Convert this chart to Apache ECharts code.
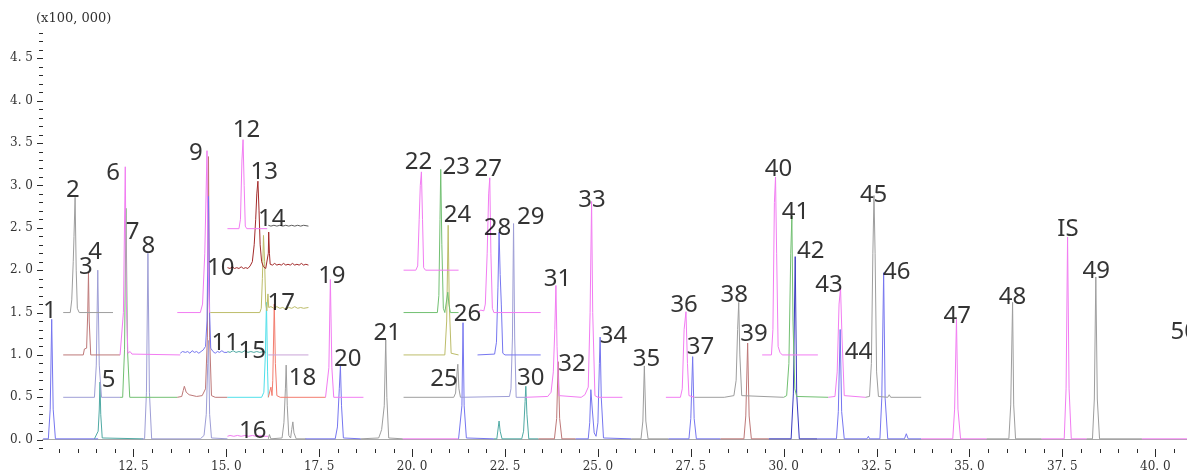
<!DOCTYPE html>
<html>
<head>
<meta charset="utf-8">
<script src="https://cdn.jsdelivr.net/npm/echarts@6/dist/echarts.min.js"></script>
<style>
  html, body { margin: 0; padding: 0; background: #fff; }
  #chart { width: 1187px; height: 475px; }
</style>
</head>
<body>
<div id="chart"></div>
<script>
// Retention time (min) / intensity (x100,000) for each channel trace.
// Traces are stacked on offsets of 0, 0.5, 1.0, 1.5, 2.0 and 2.5.

// ---- baseline 0 ----
const base0Blue1 = [[10.07,0.01],[10.21,0.01],[10.26,0.36],[10.30,1.42],[10.34,0.36],[10.40,0.01],[11.55,0.01]];
const base0Teal1 = [[11.45,0.01],[11.50,0.02],[11.55,0.10],[11.58,0.35],[11.60,0.68],[11.62,0.30],[11.66,0.02],[12.76,0.01]];
const base0Lav = [[12.70,0.01],[12.80,0.01],[12.85,0.56],[12.89,2.20],[12.93,0.56],[12.99,0.01],[14.30,0.01],[14.40,0.05],[14.46,0.30],[14.50,0.90],[14.52,1.17],[14.55,0.30],[14.60,0.02],[15.03,0.01]];
const base0Mag1 = [[15.03,0.04],[15.10,0.05],[15.20,0.04],[15.30,0.05],[15.40,0.04],[15.50,0.05],[15.60,0.04],[15.70,0.05],[15.80,0.04],[15.90,0.05],[16.00,0.04],[16.13,0.04]];
const base0Gray1 = [[16.13,0.01],[16.16,0.06],[16.20,0.01],[16.50,0.02],[16.55,0.20],[16.59,0.60],[16.61,0.88],[16.64,0.40],[16.68,0.05],[16.73,0.02],[16.76,0.12],[16.79,0.21],[16.82,0.08],[16.88,0.01],[17.15,0.01]];
const base0Blue2 = [[17.13,0.01],[17.93,0.01],[17.99,0.15],[18.04,0.60],[18.07,0.87],[18.10,0.40],[18.15,0.02],[18.62,0.01]];
const base0Gray2 = [[18.62,0.01],[19.10,0.02],[19.15,0.08],[19.18,0.12],[19.22,0.10],[19.25,0.40],[19.29,1.18],[19.32,0.50],[19.37,0.02],[19.75,0.01]];
const base0Mag2 = [[19.75,0.01],[21.25,0.01]];
const base0Blue3 = [[21.25,0.01],[21.30,0.02],[21.34,0.40],[21.37,1.38],[21.40,0.40],[21.46,0.02],[22.20,0.01]];
const base0Teal2 = [[22.20,0.01],[22.28,0.01],[22.32,0.15],[22.34,0.22],[22.37,0.10],[22.42,0.01],[22.95,0.01],[23.00,0.10],[23.04,0.45],[23.06,0.63],[23.09,0.30],[23.14,0.01],[23.40,0.01]];
const base0Brown1 = [[23.40,0.01],[23.83,0.01],[23.89,0.25],[23.93,0.92],[23.97,0.25],[24.03,0.01],[24.40,0.01]];
const base0Blue4 = [[24.40,0.01],[24.74,0.01],[24.78,0.20],[24.81,0.59],[24.85,0.35],[24.90,0.08],[24.95,0.04],[25.00,0.20],[25.04,0.90],[25.06,1.21],[25.09,0.50],[25.15,0.02],[25.90,0.01]];
const base0Gray3 = [[25.90,0.01],[26.16,0.01],[26.21,0.22],[26.25,0.87],[26.29,0.22],[26.35,0.01],[26.90,0.01]];
const base0Blue5 = [[26.90,0.01],[27.45,0.01],[27.50,0.25],[27.55,0.98],[27.59,0.25],[27.65,0.01],[28.30,0.01]];
const base0Brown2 = [[28.30,0.01],[28.93,0.01],[28.98,0.28],[29.03,1.14],[29.07,0.28],[29.13,0.01],[29.60,0.01]];
const base0Navy = [[29.60,0.01],[30.20,0.01],[30.26,0.54],[30.31,2.16],[30.35,0.54],[30.42,0.01],[30.90,0.01]];
const base0Blue6 = [[30.90,0.01],[31.42,0.01],[31.47,0.33],[31.52,1.30],[31.56,0.33],[31.63,0.01],[32.24,0.01],[32.28,0.04],[32.31,0.01],[32.59,0.01],[32.64,0.49],[32.69,1.97],[32.73,0.49],[32.80,0.01],[33.25,0.01],[33.30,0.07],[33.35,0.01],[33.70,0.01]];
const base0Mag3 = [[33.70,0.01],[34.55,0.01],[34.60,0.36],[34.65,1.42],[34.69,0.36],[34.76,0.01],[35.46,0.01]];
const base0Gray4 = [[35.46,0.01],[36.06,0.01],[36.11,0.41],[36.16,1.62],[36.19,0.41],[36.24,0.01],[36.94,0.01]];
const base0Mag4 = [[36.94,0.01],[37.55,0.01],[37.60,0.60],[37.64,2.39],[37.68,0.60],[37.74,0.01],[38.15,0.01]];
const base0Gray5 = [[38.15,0.01],[38.31,0.01],[38.36,0.48],[38.40,1.92],[38.44,0.48],[38.50,0.01],[39.64,0.01]];
const base0Mag5 = [[39.64,0.01],[40.86,0.01]];

// ---- baseline 0.5 ----
const half1Lav = [[10.61,0.5],[11.45,0.5],[11.50,0.88],[11.54,2.00],[11.58,0.88],[11.64,0.5],[12.14,0.5]];
const half2Green = [[12.14,0.5],[12.21,0.5],[12.26,1.06],[12.30,2.73],[12.34,1.06],[12.40,0.5],[13.68,0.5]];
const half3Brown = [[13.68,0.5],[13.80,0.51],[13.84,0.58],[13.87,0.63],[13.92,0.56],[14.00,0.53],[14.20,0.51],[14.35,0.52],[14.44,0.60],[14.49,1.21],[14.52,3.34],[14.55,1.21],[14.60,0.52],[14.70,0.5],[15.03,0.5]];
const half4Cyan = [[15.03,0.5],[15.95,0.5],[16.01,0.56],[16.05,1.00],[16.08,1.62],[16.11,0.80],[16.13,0.5]];
const half5Salmon = [[16.13,0.5],[16.17,0.52],[16.20,0.62],[16.23,0.52],[16.25,0.70],[16.29,1.60],[16.32,0.90],[16.36,0.52],[16.45,0.5],[17.67,0.5]];
const half6Mag = [[17.67,0.5],[17.72,0.52],[17.76,0.85],[17.80,1.89],[17.84,0.85],[17.89,0.5],[18.69,0.5]];
const half7Gray = [[19.77,0.5],[21.12,0.5],[21.17,0.55],[21.21,0.80],[21.23,0.89],[21.26,0.60],[21.30,0.5]];
const half8Lav = [[21.30,0.5],[22.62,0.51],[22.66,0.60],[22.70,1.20],[22.73,2.55],[22.76,1.20],[22.80,0.5],[23.05,0.5]];
const half9Mag = [[23.05,0.5],[23.65,0.51],[23.74,0.56],[23.80,0.80],[23.84,1.30],[23.87,1.82],[23.90,1.10],[23.95,0.52],[24.00,0.5],[24.55,0.5],[24.65,0.53],[24.74,0.62],[24.79,1.50],[24.83,2.81],[24.86,1.50],[24.92,0.52],[25.00,0.5],[25.66,0.5]];
const half10Mag = [[26.83,0.5],[27.22,0.5],[27.27,0.60],[27.32,1.30],[27.37,1.51],[27.41,0.90],[27.45,0.52],[27.60,0.5]];
const half11Gray = [[27.60,0.5],[28.40,0.5],[28.66,0.52],[28.72,0.70],[28.76,1.30],[28.79,1.62],[28.82,1.00],[28.87,0.52],[28.92,0.5],[30.00,0.5]];
const half12Green = [[30.00,0.5],[30.08,0.52],[30.14,0.90],[30.19,2.20],[30.22,2.64],[30.25,1.40],[30.30,0.60],[30.35,0.51],[31.20,0.5]];
const half13Mag = [[31.20,0.5],[31.38,0.51],[31.44,0.80],[31.49,1.60],[31.53,1.79],[31.57,1.20],[31.63,0.52],[31.68,0.5],[32.20,0.5]];
const half14Gray = [[32.20,0.5],[32.31,0.51],[32.36,0.90],[32.40,2.20],[32.43,2.88],[32.46,2.20],[32.50,0.80],[32.55,0.51],[32.80,0.5],[32.84,0.53],[32.88,0.5],[33.70,0.5]];

// ---- baseline 1.0 ----
const one1Brown = [[10.61,1.0],[11.15,1.0],[11.18,1.07],[11.24,1.08],[11.27,1.50],[11.29,1.97],[11.31,1.40],[11.35,1.0],[12.14,1.0]];
const one2Mag = [[12.14,1.0],[12.19,1.02],[12.23,1.50],[12.28,3.22],[12.31,1.60],[12.35,1.02],[12.41,1.04],[12.46,1.01],[13.76,1.0]];
const one3Blue = [[13.76,1.02],[13.82,1.04],[13.86,1.06],[13.90,1.03],[13.96,1.04],[14.02,1.02],[14.08,1.05],[14.14,1.03],[14.20,1.04],[14.26,1.02],[14.32,1.04],[14.38,1.06],[14.44,1.10],[14.48,1.40],[14.52,2.87],[14.55,1.50],[14.58,1.08],[14.64,1.04],[14.70,1.02],[14.76,1.04],[14.82,1.03],[14.88,1.05],[14.94,1.03],[15.03,1.03]];
const one4Teal = [[15.03,1.04],[15.10,1.03],[15.18,1.05],[15.26,1.03],[15.34,1.04],[15.42,1.03],[15.50,1.05],[15.58,1.03],[15.66,1.04],[15.74,1.03],[15.82,1.04],[15.90,1.03],[16.00,1.04],[16.06,1.03]];
const one5Pink = [[16.13,1.0],[17.21,1.0]];
const one6Olive = [[19.77,1.0],[20.88,1.0],[20.93,1.40],[20.97,2.53],[21.00,1.60],[21.05,1.02],[21.25,1.0]];
const one7Blue = [[21.76,1.0],[22.22,1.01],[22.27,1.15],[22.31,1.80],[22.34,2.45],[22.37,1.95],[22.40,1.60],[22.44,1.02],[22.50,1.0],[23.46,1.0]];
const one8Mag = [[29.42,1.0],[29.67,1.0],[29.71,1.30],[29.75,2.80],[29.78,3.10],[29.81,2.20],[29.85,1.10],[29.90,1.03],[29.96,1.0],[30.92,1.0]];

// ---- baseline 1.5 ----
const oneHalf1Gray = [[10.61,1.5],[10.80,1.5],[10.84,1.65],[10.88,2.10],[10.90,2.40],[10.93,2.86],[10.96,2.00],[10.99,1.55],[11.04,1.5],[11.95,1.5]];
const oneHalf2Mag = [[13.68,1.5],[14.30,1.5],[14.36,1.60],[14.42,2.20],[14.48,3.41],[14.51,2.00],[14.55,1.5],[14.57,1.5]];
const oneHalf3Olive = [[14.57,1.5],[15.90,1.5],[15.94,1.55],[15.97,1.90],[16.00,2.41],[16.03,2.10],[16.06,1.60],[16.09,1.52],[16.12,1.72],[16.14,1.56],[16.20,1.57],[16.28,1.55],[16.36,1.57],[16.44,1.55],[16.52,1.56],[16.60,1.54],[16.68,1.56],[16.76,1.55],[16.84,1.57],[16.92,1.55],[17.00,1.56],[17.08,1.55],[17.21,1.56]];
const oneHalf4Green = [[19.77,1.5],[20.68,1.5],[20.72,1.70],[20.75,2.60],[20.77,3.19],[20.80,2.30],[20.84,1.55],[20.88,1.5],[20.93,1.52],[20.96,1.74],[20.99,1.60],[21.03,1.5],[21.25,1.5]];
const oneHalf5Mag = [[21.79,1.5],[21.84,1.53],[21.88,1.55],[21.93,1.52],[21.97,1.60],[22.02,2.20],[22.06,2.90],[22.09,3.09],[22.12,2.20],[22.16,1.55],[22.20,1.5],[23.46,1.5]];

// ---- baseline 2.0 ----
const two1DarkRed = [[15.03,2.03],[15.10,2.02],[15.16,2.04],[15.22,2.02],[15.28,2.03],[15.34,2.02],[15.40,2.04],[15.46,2.02],[15.52,2.03],[15.58,2.02],[15.64,2.05],[15.70,2.10],[15.75,2.30],[15.79,2.60],[15.82,2.90],[15.85,3.05],[15.88,2.70],[15.91,2.30],[15.95,2.10],[16.00,2.04],[16.06,2.02],[16.11,2.01],[16.13,2.20],[16.14,2.45],[16.16,2.20],[16.18,2.07],[16.24,2.06],[16.30,2.08],[16.36,2.06],[16.42,2.07],[16.48,2.06],[16.54,2.08],[16.60,2.06],[16.66,2.07],[16.72,2.06],[16.78,2.08],[16.84,2.06],[16.90,2.07],[16.96,2.06],[17.02,2.08],[17.08,2.06],[17.14,2.07],[17.21,2.06]];
const two2Mag = [[19.77,2.0],[20.10,2.0],[20.15,2.05],[20.19,2.60],[20.22,3.00],[20.25,3.16],[20.28,2.60],[20.31,2.03],[20.36,2.0],[21.25,2.0]];

// ---- baseline 2.5 ----
const twoHalf1Mag = [[15.03,2.49],[15.34,2.49],[15.38,2.60],[15.42,3.30],[15.45,3.54],[15.48,3.00],[15.51,2.52],[15.55,2.49],[16.10,2.49]];
const twoHalf2Dark = [[16.13,2.53],[16.20,2.52],[16.28,2.53],[16.36,2.52],[16.44,2.53],[16.52,2.52],[16.60,2.53],[16.68,2.52],[16.76,2.53],[16.84,2.52],[16.92,2.53],[17.00,2.52],[17.08,2.53],[17.21,2.52]];

// Peak number labels: [text, time, intensity]
const peakLabels = [
  ['1',10.25,1.515],['2',10.87,2.95],['3',11.22,2.04],['4',11.47,2.21],['5',11.83,0.70],
  ['6',11.95,3.14],['7',12.48,2.45],['8',12.90,2.28],['9',14.18,3.38],['10',14.85,2.02],
  ['11',14.97,1.14],['12',15.54,3.65],['13',16.02,3.16],['14',16.22,2.60],['15',15.70,1.045],
  ['16',15.71,0.10],['17',16.48,1.615],['18',17.05,0.73],['19',17.84,1.93],['20',18.27,0.955],
  ['21',19.33,1.26],['22',20.17,3.27],['23',21.19,3.22],['24',21.22,2.645],['25',20.86,0.715],
  ['26',21.49,1.48],['27',22.05,3.195],['28',22.30,2.50],['29',23.19,2.63],['30',23.19,0.73],
  ['31',23.91,1.89],['32',24.30,0.89],['33',24.84,2.825],['34',25.42,1.22],['35',26.31,0.945],
  ['36',27.32,1.59],['37',27.76,1.09],['38',28.67,1.71],['39',29.20,1.24],['40',29.86,3.19],
  ['41',30.32,2.69],['42',30.73,2.23],['43',31.22,1.82],['44',32.01,1.03],['45',32.42,2.89],
  ['46',33.04,1.98],['47',34.67,1.46],['48',36.16,1.685],['IS',37.65,2.49],['49',38.41,1.99],
  ['50',40.78,1.265]
];

// Axis tick labels
const xTickLabels = [12.5, 15.0, 17.5, 20.0, 22.5, 25.0, 27.5, 30.0, 32.5, 35.0, 37.5, 40.0];
const yTickLabels = [0.0, 0.5, 1.0, 1.5, 2.0, 2.5, 3.0, 3.5, 4.0, 4.5];
const unitLabel = '(x100, 000)';

const xMin = 10.066, xMax = 40.854, yMin = -0.11, yMax = 4.846;

// tick marks: every 0.5 min on the time axis (long ones at the labels), every 0.1 on the intensity axis
const xMinorTicks = [];
for (let k = 21; k <= 81; k++) xMinorTicks.push(k / 2);
const yMinorTicks = [];
for (let k = -1; k <= 48; k++) yMinorTicks.push(k / 10);

const C = {
  blue: '#7676f0', lav: '#9e9ed6', teal: '#4faaa4', mag: '#f27cf2', gray: '#9e9e9e',
  brown: '#be7878', darkRed: '#a32a2a', navy: '#3a3abf', green: '#72c072', olive: '#bdbd6a',
  cyan: '#50e0ea', salmon: '#f37c6e', pink: '#c9a4d8', dark: '#5c5c5c'
};

const traces = [
  [base0Blue1, C.blue], [base0Teal1, C.teal], [base0Lav, C.lav], [base0Mag1, C.mag],
  [base0Gray1, C.gray], [base0Blue2, C.blue], [base0Gray2, C.gray], [base0Mag2, C.mag],
  [base0Blue3, C.blue], [base0Teal2, C.teal], [base0Brown1, C.brown], [base0Blue4, C.blue],
  [base0Gray3, C.gray], [base0Blue5, C.blue], [base0Brown2, C.brown], [base0Navy, C.navy],
  [base0Blue6, C.blue], [base0Mag3, C.mag], [base0Gray4, C.gray], [base0Mag4, C.mag],
  [base0Gray5, C.gray], [base0Mag5, C.mag],
  [half1Lav, C.lav], [half2Green, C.green], [half3Brown, C.brown], [half4Cyan, C.cyan],
  [half5Salmon, C.salmon], [half6Mag, C.mag], [half7Gray, C.gray], [half8Lav, C.lav],
  [half9Mag, C.mag], [half10Mag, C.mag], [half11Gray, C.gray], [half12Green, C.green],
  [half13Mag, C.mag], [half14Gray, C.gray],
  [one1Brown, C.brown], [one2Mag, C.mag], [one3Blue, C.blue], [one4Teal, C.teal],
  [one5Pink, C.pink], [one6Olive, C.olive], [one7Blue, C.blue], [one8Mag, C.mag],
  [oneHalf1Gray, C.gray], [oneHalf2Mag, C.mag], [oneHalf3Olive, C.olive],
  [oneHalf4Green, C.green], [oneHalf5Mag, C.mag],
  [two1DarkRed, C.darkRed], [two2Mag, C.mag],
  [twoHalf1Mag, C.mag], [twoHalf2Dark, C.dark]
];

const fmt = v => v.toFixed(1).replace('.', '. ');
const serif = 'DejaVu Serif';
const tickColor = '#2b2b2b';
const frameColor = '#a8a8a8';

const series = traces.map(([data, color]) => ({
  type: 'line', data, showSymbol: false, symbol: 'none', silent: true,
  lineStyle: { color, width: 1 }, z: 2
}));

series.push({
  type: 'scatter', silent: true, symbolSize: 1, z: 5,
  itemStyle: { color: 'rgba(0,0,0,0)' },
  data: peakLabels.map(([name, t, v]) => ({ name, value: [t, v] })),
  label: {
    show: true, position: 'inside', formatter: p => p.name,
    fontFamily: 'Noto Sans', fontSize: 24, color: '#000',
    align: 'center', verticalAlign: 'middle'
  }
});

// Tick marks, placed through the axes' own scales: [time, intensity, length, direction]
const tickMarks = []
  .concat(xMinorTicks.map(t => [t, yMin, xTickLabels.includes(t) ? 8 : 4, 0]))
  .concat(yMinorTicks.map(v => [xMin, v, yTickLabels.some(l => Math.abs(l - v) < 1e-9) ? 6 : 4, 1]));

series.push({
  type: 'custom', silent: true, clip: false, z: 6,
  data: tickMarks,
  encode: { x: 0, y: 1 },
  renderItem: (params, api) => {
    const p = api.coord([api.value(0), api.value(1)]);
    const len = api.value(2);
    const vertical = api.value(3) === 0;
    const x = Math.round(p[0]) + 0.5, y = Math.round(p[1]) + 0.5;
    const shape = vertical
      ? { x1: x, y1: Math.round(p[1]), x2: x, y2: Math.round(p[1]) + len }
      : { x1: Math.round(p[0]) - len, y1: y, x2: Math.round(p[0]), y2: y };
    return { type: 'line', shape, style: { stroke: tickColor, lineWidth: 1 } };
  }
});

const gridBox = { left: 43, right: 0, top: 29, bottom: 26 };
const noSplit = { show: false };

const chart = echarts.init(document.getElementById('chart'), null, { renderer: 'canvas' });
chart.setOption({
  animation: false,
  backgroundColor: '#ffffff',
  title: {
    text: unitLabel, left: 36, top: 12, padding: 0,
    textStyle: { fontFamily: serif, fontSize: 13, fontWeight: 'normal', color: '#333' }
  },
  // grid 1 shares the box of grid 0 and only carries the top frame line
  grid: [Object.assign({}, gridBox), Object.assign({}, gridBox)],
  xAxis: [
    {
      gridIndex: 0, type: 'value', min: xMin, max: xMax, position: 'bottom',
      axisLine: { show: true, lineStyle: { color: frameColor, width: 1 } },
      axisTick: { show: false },
      axisLabel: { customValues: xTickLabels, formatter: fmt, fontFamily: serif, fontSize: 12, color: '#333', margin: 12 },
      splitLine: noSplit
    },
    {
      gridIndex: 1, type: 'value', min: xMin, max: xMax, position: 'top',
      axisLine: { show: true, lineStyle: { color: frameColor, width: 1 } },
      axisTick: { show: false }, axisLabel: { show: false }, splitLine: noSplit
    }
  ],
  yAxis: [
    {
      gridIndex: 0, type: 'value', min: yMin, max: yMax, position: 'left',
      axisLine: { show: false },
      axisTick: { show: false },
      axisLabel: { customValues: yTickLabels, formatter: fmt, fontFamily: serif, fontSize: 12, color: '#333', margin: 10 },
      splitLine: noSplit
    },
    {
      gridIndex: 1, type: 'value', min: yMin, max: yMax, position: 'left',
      axisLine: { show: false }, axisTick: { show: false }, axisLabel: { show: false }, splitLine: noSplit
    }
  ],
  series
});
</script>
</body>
</html>
